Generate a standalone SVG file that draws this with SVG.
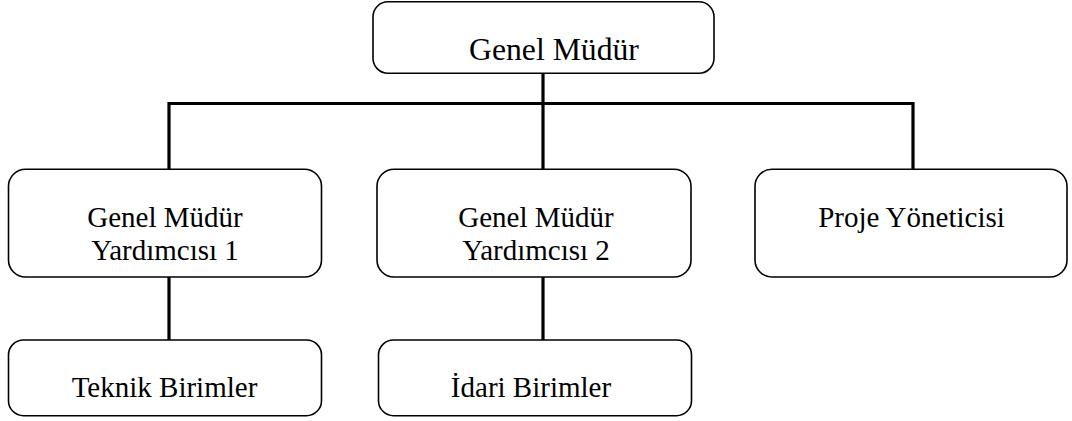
<svg xmlns="http://www.w3.org/2000/svg" width="1072" height="421" viewBox="0 0 1072 421">
  <style>
    .box { fill: #ffffff; stroke: #000000; stroke-width: 1.6; }
    .lbl { font-family: "Liberation Serif", "Times New Roman", serif; font-size: 29px; fill: #000000; text-anchor: middle; }
    .lbl-top { font-size: 31.7px; }
    .link { stroke: #000000; stroke-width: 3.2; fill: none; stroke-linecap: butt; }
  </style>
  <rect width="1072" height="421" fill="#ffffff"/>

  <!-- connectors -->
  <g id="connectors">
    <line class="link" x1="543" y1="73" x2="543" y2="103.5"/>
    <polyline class="link" points="169,169 169,103.5 913,103.5 913,169"/>
    <line class="link" x1="543" y1="103.5" x2="543" y2="169"/>
    <line class="link" x1="169" y1="277" x2="169" y2="340"/>
    <line class="link" x1="543" y1="277" x2="543" y2="340"/>
  </g>

  <g id="genel-mudur">
    <rect class="box" x="373" y="1.8" width="341" height="71.5" rx="15"/>
    <text class="lbl lbl-top" x="554" y="60">Genel Müdür</text>
  </g>

  <g id="gmy-1">
    <rect class="box" x="8.5" y="169.3" width="313" height="107.7" rx="17"/>
    <text class="lbl" x="165" y="226.5">Genel Müdür</text>
    <text class="lbl" x="165" y="260">Yardımcısı 1</text>
  </g>

  <g id="gmy-2">
    <rect class="box" x="377" y="169.3" width="314" height="107.7" rx="17"/>
    <text class="lbl" x="536" y="226.5">Genel Müdür</text>
    <text class="lbl" x="536" y="260">Yardımcısı 2</text>
  </g>

  <g id="proje-yoneticisi">
    <rect class="box" x="755" y="169.3" width="312" height="107.7" rx="17"/>
    <text class="lbl" x="911.5" y="226.5">Proje Yöneticisi</text>
  </g>

  <g id="teknik-birimler">
    <rect class="box" x="8.5" y="340" width="313" height="75.7" rx="15"/>
    <text class="lbl" x="164.5" y="396.5">Teknik Birimler</text>
  </g>

  <g id="idari-birimler">
    <rect class="box" x="378.5" y="340" width="313" height="75.7" rx="15"/>
    <text class="lbl" x="531" y="396.5">İdari Birimler</text>
  </g>
</svg>
